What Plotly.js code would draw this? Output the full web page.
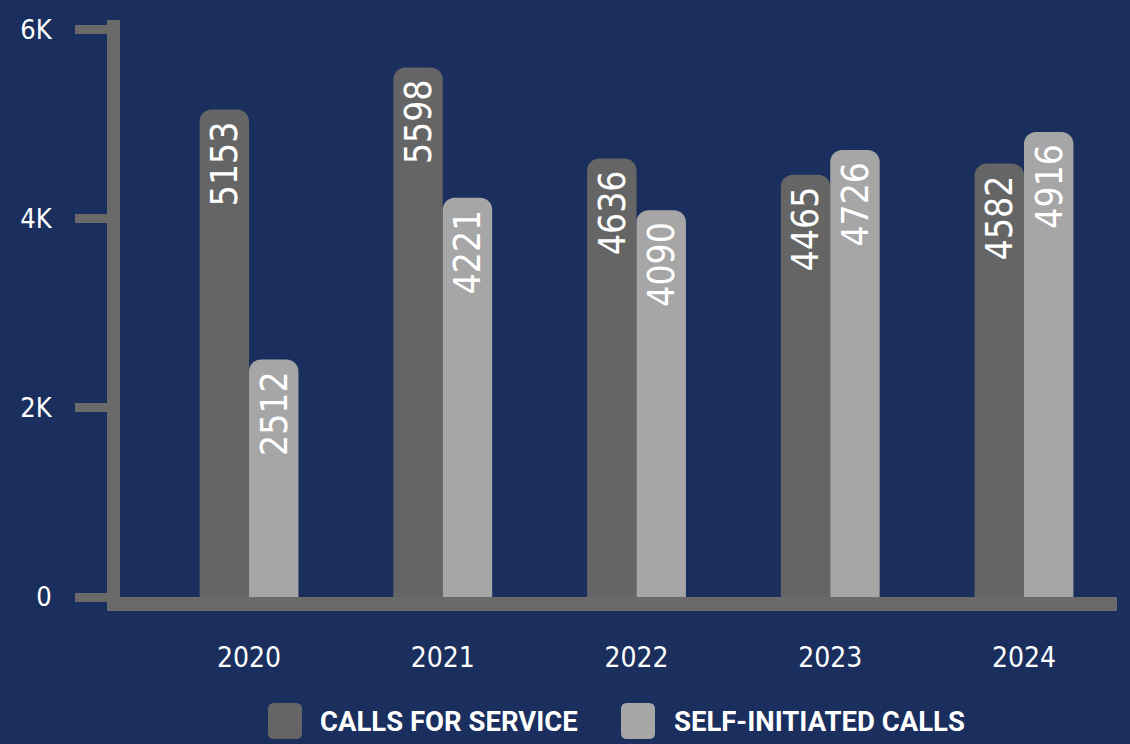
<!DOCTYPE html>
<html>
<head>
<meta charset="utf-8">
<script src="https://cdn.plot.ly/plotly-3.0.1.min.js"></script>
<style>
  html, body { margin: 0; padding: 0; background: #1a2f5e; }
  #chart { width: 1130px; height: 744px; }
</style>
</head>
<body>
<div id="chart"></div>
<script>
const years = ['2020', '2021', '2022', '2023', '2024'];
const callsForService = [5153, 5598, 4636, 4465, 4582];
const selfInitiated = [2512, 4221, 4090, 4726, 4916];
const seriesNames = ['CALLS FOR SERVICE', 'SELF-INITIATED CALLS'];
const yTickVals = [0, 2000, 4000, 6000];
const yTickText = ['0', '2K', '4K', '6K'];

const BG = '#1a2f5e';
const DARK = '#656565';
const LIGHT = '#a6a6a6';
const AXIS = '#6a6a6a';
const NUMFONT = '"Liberation Sans Narrow", "DejaVu Sans Condensed", "Roboto", sans-serif';

function barTrace(name, values, color) {
  return {
    type: 'bar',
    name: name,
    x: years,
    y: values,
    text: values.map(String),
    textposition: 'inside',
    insidetextanchor: 'end',
    textangle: -90,
    constraintext: 'none',
    textfont: { family: NUMFONT, size: 46, color: '#ffffff' },
    marker: { color: color, cornerradius: 12, line: { width: 0 } },
    hoverinfo: 'skip',
    showlegend: false
  };
}

const data = [
  barTrace(seriesNames[0], callsForService, DARK),
  barTrace(seriesNames[1], selfInitiated, LIGHT)
];

function roundedSquare(anchorX, color) {
  return {
    type: 'path', xref: 'paper', yref: 'paper',
    xsizemode: 'pixel', ysizemode: 'pixel',
    xanchor: anchorX, yanchor: -0.215,
    path: 'M -17,-12 Q -17,-18 -11,-18 L 11,-18 Q 17,-18 17,-12 L 17,12 Q 17,18 11,18 L -11,18 Q -17,18 -17,12 Z',
    fillcolor: color, line: { width: 0 }
  };
}

const legendFont = { family: 'Roboto, "Open Sans", sans-serif', size: 27.5, color: '#ffffff', weight: 'bold' };

const layout = {
  width: 1130, height: 744,
  paper_bgcolor: BG, plot_bgcolor: BG,
  margin: { l: 120, r: 13, t: 20, b: 147 },
  barmode: 'group', bargap: 0.49, bargroupgap: 0,
  showlegend: false,
  xaxis: {
    type: 'category',
    range: [-0.666, 4.48],
    showline: true, linewidth: 14, linecolor: AXIS,
    ticks: '', showgrid: false, zeroline: false,
    tickfont: { family: NUMFONT, size: 28, color: '#ffffff' },
    ticklabelstandoff: 22
  },
  yaxis: {
    range: [0, 6100],
    tickmode: 'array', tickvals: yTickVals, ticktext: yTickText,
    ticks: 'outside', ticklen: 32, tickwidth: 9, tickcolor: AXIS,
    showline: true, linewidth: 13, linecolor: AXIS,
    showgrid: false, zeroline: false,
    tickfont: { family: NUMFONT, size: 27, color: '#ffffff' },
    ticklabelstandoff: 18
  },
  shapes: [
    roundedSquare((285 - 120) / 997, DARK),
    roundedSquare((638 - 120) / 997, LIGHT)
  ],
  annotations: [
    { xref: 'paper', yref: 'paper', x: (318 - 120) / 997, y: -0.215, xanchor: 'left', yanchor: 'middle',
      text: seriesNames[0], showarrow: false, font: legendFont },
    { xref: 'paper', yref: 'paper', x: (672 - 120) / 997, y: -0.215, xanchor: 'left', yanchor: 'middle',
      text: seriesNames[1], showarrow: false, font: legendFont }
  ]
};

Plotly.newPlot('chart', data, layout, { displayModeBar: false, staticPlot: true });
</script>
</body>
</html>
